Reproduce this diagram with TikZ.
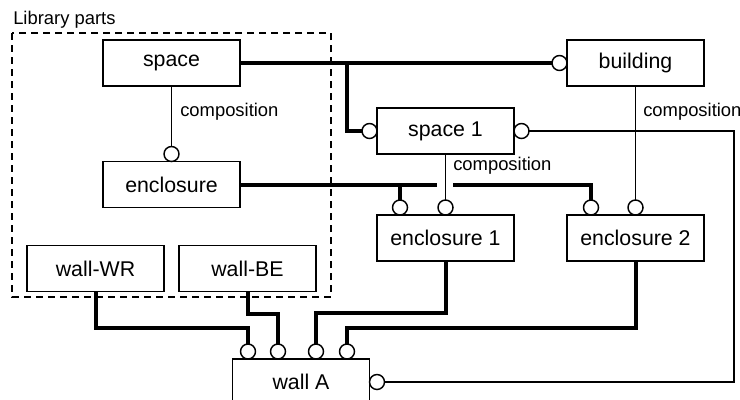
\documentclass[tikz,border=0pt]{standalone}
\usepackage{fontspec}
\setmainfont{Liberation Sans}
\usetikzlibrary{positioning,calc}

\begin{document}
\begin{tikzpicture}[x=0.75pt,y=-0.75pt,node distance=0pt,
  part/.style={draw, line width=1.1pt, rectangle, fill=white, outer sep=0pt, inner sep=0pt,
    minimum width=102.75pt, minimum height=34.5pt, font=\fontsize{16}{19}\selectfont},
  port/.style={draw, line width=1.1pt, circle, fill=white, outer sep=0pt, inner sep=0pt, minimum size=11.25pt},
  bus/.style={line width=3pt},
  link/.style={line width=1.1pt},
  lbl/.style={anchor=west, inner sep=0pt, font=\fontsize{13.8}{16}\selectfont}]
            \useasboundingbox (0,0) rectangle (740,400);

            % Library parts
            \draw[dashed, line width=1pt, dash pattern=on 5.25pt off 3.75pt] (12,33) rectangle (331,297);
            \node[anchor=base west, inner sep=0pt, font=\fontsize{13.8}{16}\selectfont] (libtitle) at (13,24) {Library parts};

            % Parts
            \node[part] (space) at (171.5,63) {space};
            \node[part] (enclosure) at (171.5,184.5) {enclosure};
            \node[part] (wallWR) at (95.5,268.5) {wall-WR};
            \node[part] (wallBE) at (247.5,268.5) {wall-BE};
            \node[part] (building) at (635.5,63) {building};
            \node[part] (space1) at (445.5,131) {space 1};
            \node[part] (encl1) at (445.5,238) {enclosure 1};
            \node[part] (encl2) at (635.5,238) {enclosure 2};
            \node[part] (wallA) at (301,382) {wall A};

            % Ports
            \node[port, above=of enclosure] (encTop) {};
            \node[port, left=of building] (bldgL) {};
            \node[port, left=of space1] (s1L) {};
            \node[port, right=of space1] (s1R) {};
            \node[port, anchor=south] (e1a) at ($(encl1.north)+(-45.5,0)$) {};
            \node[port, above=of encl1] (e1b) {};
            \node[port, anchor=south] (e2a) at ($(encl2.north)+(-44.5,0)$) {};
            \node[port, above=of encl2] (e2b) {};
            \node[port, anchor=south] (wA1) at ($(wallA.north)+(-53,0)$) {};
            \node[port, anchor=south] (wA2) at ($(wallA.north)+(-23,0)$) {};
            \node[port, anchor=south] (wA3) at ($(wallA.north)+(15,0)$) {};
            \node[port, anchor=south] (wA4) at ($(wallA.north)+(46,0)$) {};
            \node[port, right=of wallA] (wAR) {};

            % Composition links
            \draw[link] (space.south) -- (encTop.north);
            \node[lbl] (comp1) at (180,112) {composition};
            \draw[link] (building.south) -- (e2b.north);
            \node[lbl] (comp2) at (643,112) {composition};
            \draw[link] (space1.south) -- (e1b.north);
            \node[lbl] (comp3) at (453,166) {composition};
            \draw[link] (s1R.east) -- (734,131) |- (wAR.east);

            % Instance links
            \coordinate (tap) at (347,63);
            \coordinate (gapL) at ($(space1.south |- enclosure.east)+(-8.5,0)$);
            \coordinate (gapR) at ($(space1.south |- enclosure.east)+(7.5,0)$);
            \draw[bus] (space.east) -- (bldgL.west);
            \draw[bus] (tap) |- (s1L.west);
            \draw[bus] (enclosure.east) -- (gapL);
            \draw[bus] (gapR) -| (e2a.north);
            \draw[bus] (e1a.north) -- (e1a.north |- enclosure.east);
            \draw[bus] (wallWR.south) -- (wallWR.south |- 0,328) -| (wA1.north);
            \draw[bus] (wallBE.south) -- (wallBE.south |- 0,314) -| (wA2.north);
            \draw[bus] (encl1.south) -- (encl1.south |- 0,313) -| (wA3.north);
            \draw[bus] (encl2.south) -- (encl2.south |- 0,328) -| (wA4.north);
        \end{tikzpicture}
\end{document}
